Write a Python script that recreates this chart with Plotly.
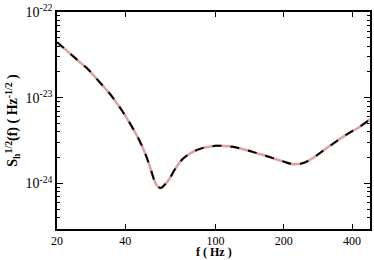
import numpy as np
import plotly.graph_objects as go

# frequency (Hz) and strain noise amplitude
freq = [20, 22.5, 25, 27.4, 30, 32.5, 35, 38.4, 42, 45.5, 48, 50.3, 52, 53.8, 55.5, 57.5,
        59.5, 62.6, 66, 71.6, 78, 84.8, 92, 100.3, 109, 118.7, 129, 140.4, 152, 166.3,
        183.9, 200, 217.5, 237, 257.5, 280, 304.8, 332, 360.4, 392, 426.6, 480]
asd = [4.45e-23, 3.4e-23, 2.65e-23, 2.15e-23, 1.65e-23, 1.30e-23, 1.03e-23, 7.3e-24, 5.0e-24,
       3.43e-24, 2.55e-24, 1.85e-24, 1.42e-24, 1.08e-24, 9.3e-25, 8.9e-25,
       9.6e-25, 1.13e-24, 1.45e-24, 1.93e-24, 2.28e-24, 2.52e-24, 2.67e-24, 2.75e-24, 2.74e-24,
       2.68e-24, 2.56e-24, 2.41e-24, 2.26e-24, 2.11e-24,
       1.93e-24, 1.80e-24, 1.69e-24, 1.70e-24, 1.85e-24, 2.14e-24, 2.52e-24, 2.95e-24,
       3.43e-24, 3.95e-24, 4.48e-24, 5.6e-24]

xticks = [20, 40, 100, 200, 400]
yticks = [1e-24, 1e-23, 1e-22]
ytext = ["10<sup>-24</sup>", "10<sup>-23</sup>", "10<sup>-22</sup>"]
yminor = [m * d for d in [1e-25, 1e-24, 1e-23] for m in range(2, 10)]

fig = go.Figure()
fig.add_trace(go.Scatter(x=freq, y=asd, mode="lines", line=dict(color="#dba3a3", width=2.5, shape="spline")))
fig.add_trace(go.Scatter(x=freq, y=asd, mode="lines", line=dict(color="black", width=2, dash="dash", shape="spline")))

fnt = dict(family="Liberation Serif, Times New Roman, serif", size=14, color="black")

fig.update_layout(
    width=374, height=260,
    margin=dict(l=57, r=2, t=10, b=31),
    paper_bgcolor="white", plot_bgcolor="white",
    showlegend=False,
    font=fnt,
)
fig.update_xaxes(
    type="log", range=[np.log10(20), np.log10(480)],
    tickvals=xticks, ticktext=[str(v) for v in xticks],
    ticks="inside", ticklen=5, tickcolor="black",
    tickfont=dict(size=12), ticklabelstandoff=0,
    showline=True, linecolor="black", linewidth=1.5, mirror="ticks",
    showgrid=False, zeroline=False,
)
fig.update_yaxes(
    type="log", range=[-24.53, -22],
    tickvals=yticks, ticktext=ytext,
    ticks="inside", ticklen=6, tickcolor="black",
    minor=dict(tickvals=yminor, ticks="inside", ticklen=3, tickcolor="black", showgrid=False),
    showline=True, linecolor="black", linewidth=1.5, mirror="ticks",
    showgrid=False, zeroline=False,
    title=dict(text="<b>S<sub>h</sub><sup>1/2</sup>(f) ( Hz<sup>-1/2</sup> )</b>", standoff=4, font=dict(size=14)),
)

# x title placed at the bottom edge of the page
fig.add_annotation(text="<b>f ( Hz )</b>", xref="paper", yref="paper",
                   x=0.5, y=-31 / 219, xanchor="center", yanchor="bottom",
                   showarrow=False, borderpad=0, font=dict(size=12))

# no page margin so the figure sits at the window corner
fig.write_html("out.html", config={"displayModeBar": False},
               post_script="document.body.style.margin='0';")
